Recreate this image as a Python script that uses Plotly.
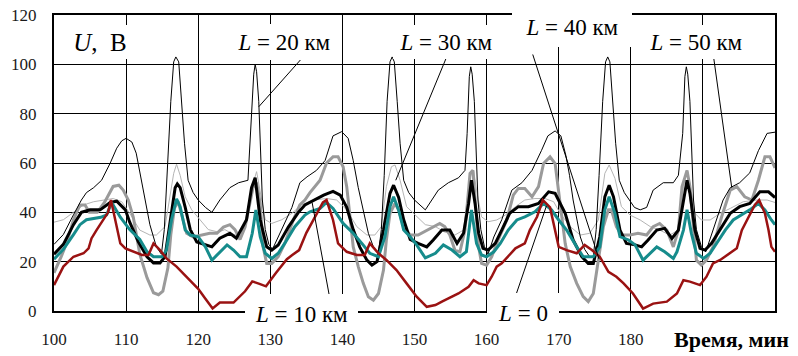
import plotly.graph_objects as go

# ---------------- data (time, min ; voltage, V) ----------------
red_L0 = [(100,10.5),(101.3,18),(102.7,22),(104.1,23.4),(104.8,25.4),(105.2,29.4),(105.9,32.8),(106.8,36.9),(107.5,40),(107.9,45),(108.7,34),(109.2,27.4),(109.9,25.4),(111,24),(112.2,22.7),(113.1,22.7),(113.8,27.4),(114.7,24.7),(115.6,21.3),(117,18),(118,15),(119,12),(120,9),(121,5),(122,1),(123,3.4),(124.9,3.4),(126.5,8),(127.5,12),(128.5,11),(129.4,10),(130.8,15.5),(132.3,21),(133,22.6),(134,24.7),(135,31.7),(136,37),(136.8,41),(137.3,44),(137.8,45),(138.7,36.9),(139.4,27.4),(140.6,24),(142,22.7),(143.1,22.7),(143.8,27.4),(145,23.4),(146.1,20.7),(147.5,16.6),(148.9,11.2),(150.3,5.8),(151.7,1.7),(152.9,2.4),(153.8,3.8),(154.7,5.1),(156.1,7.1),(157.5,9.8),(158.2,12.5),(158.9,11.2),(160,10.5),(160.7,13.9),(161.4,18),(162.1,19.3),(163,22),(164,25.4),(165.3,27.4),(166,32.8),(167,38.2),(167.8,45),(168.8,42),(169.5,32.8),(170,26),(171.1,24.7),(172.5,23.4),(173.6,26.8),(174.6,24.7),(175.7,22),(176.9,15.9),(178,13.9),(179,11.2),(180.3,7.1),(181.7,1),(183.1,3),(185,3.8),(186.4,7.1),(187.3,12.5),(188.2,11.9),(189.6,10.5),(190.5,13.9),(191.4,19.3),(192.4,20.7),(193.8,23.4),(194.7,25.4),(195.4,32.8),(196.3,38.2),(197.2,43),(197.8,45),(198.6,39.6),(199.1,32.8),(199.5,26),(200,24)]

teal_L10 = [(100,21),(101.3,25),(102.7,31),(103.6,35),(104.5,37),(105.5,37.5),(106.5,38),(107.3,39),(108,44),(109.2,38),(110.5,33),(111.9,29),(112.9,24),(113.8,22),(115,22),(115.6,24.7),(116.3,37),(117,45.5),(117.5,42.3),(118.2,32.8),(118.9,30.8),(120,30.1),(121,26),(121.9,20.6),(122.8,23.4),(124,26.8),(124.9,24.7),(125.8,22),(126.7,22),(127.5,31.5),(128,41),(128.6,30.1),(129.3,23.4),(130.2,21.3),(131.1,23.4),(132,27.4),(133.4,34.2),(134.8,38.9),(135.5,40.2),(136.9,41.6),(137.8,44),(138.7,41.6),(140.1,35.5),(141.5,31.5),(142.7,27.4),(143.8,23.4),(145,22),(145.9,30.1),(146.6,42.3),(147.1,46.3),(147.8,40.9),(148.5,32.8),(149.4,30.1),(150.3,26.8),(151.5,21.5),(152.9,23.4),(154,26.8),(155.2,24.7),(156.3,22),(157.2,24),(157.9,41),(158.6,27.4),(159.3,22.7),(160,22),(161,24),(161.9,27.4),(163,32.8),(164.2,36.9),(165.3,38.2),(166.7,40.2),(167.9,43.6),(169,41),(170,36.9),(171.1,32.8),(172.5,26),(173.4,22),(174.8,22),(175.7,26),(176.4,41),(177,46.3),(177.8,39.6),(178.5,30.1),(179.7,28.8),(180.6,26.8),(181.7,20.6),(182.7,23.4),(183.6,26),(184.7,24),(185.9,21.3),(186.4,24),(187.3,32.8),(187.8,41),(188.4,31.5),(189.1,23.4),(190.1,21.3),(191,23.4),(191.9,27.4),(193.1,32.8),(194.2,36.9),(195.4,38.9),(196.5,41),(197.7,43.6),(198.6,41),(199.5,36.9),(200,35)]

black_L30 = [(100,23),(101.3,27),(102.7,35),(103.8,40),(105,41),(106.4,41),(107.8,44),(108.7,44.5),(109.9,41),(110.5,36),(111.7,28),(112.9,22),(113.8,19.5),(114.7,19.5),(115.4,22),(116.1,37),(116.8,50),(117.1,51.5),(117.5,50),(118.2,42),(118.9,33),(119.8,28),(121,27),(121.9,26),(123,29.5),(124.4,31.5),(125.3,29.5),(126.7,37),(127.4,50),(127.9,54),(128.6,37),(129.5,26),(130.2,24.7),(131.1,26.8),(132.5,34),(133.9,40),(134.8,43),(136,45),(137.4,47),(138.7,48.5),(139.7,47),(140.6,42),(141.5,33),(142.4,26),(143.4,20.6),(144.1,18.6),(144.8,20),(145.7,33),(146.6,47.7),(147.1,51),(147.8,46),(148.5,37),(149.4,29),(150.5,27.4),(151.7,26),(152.6,28.8),(153.8,32.8),(154.9,32.8),(155.9,27.4),(156.8,31.5),(157.5,43.6),(157.9,53),(158.4,43.6),(158.9,31.5),(159.5,25.4),(160.2,24.7),(161.2,27.4),(162.1,32.8),(163.2,39.6),(164.4,42.3),(165.8,42.3),(167.2,43.6),(168.6,48.3),(169.5,47.7),(170.9,39.6),(172,28.8),(173.2,22),(174.1,19.3),(174.8,19.3),(175.7,30.1),(176.4,46.3),(177,51),(177.6,46.3),(178.5,32.8),(179.4,27.4),(180.6,26.8),(181.5,26),(182.4,28.8),(183.6,32.8),(184.7,33.5),(185.7,29.4),(186.6,32.8),(187.3,45),(187.8,53),(188.2,47.7),(188.9,32.8),(189.6,25.4),(190.3,24.7),(191.2,27.4),(192.4,32.8),(193.8,39.6),(195.1,42.3),(196.5,43.6),(197.9,48.3),(199.1,48.3),(200,46)]

gray_L40 = [(100,15.5),(101,22),(101.8,28),(102.7,37),(103.6,43),(104.3,43),(104.9,40),(106,40),(107,44),(108.2,50.5),(109,51),(109.6,49),(110.3,45),(111,38),(111.9,23),(112.9,13.5),(113.8,7.4),(114.5,6.6),(115.1,8),(115.8,17.5),(116.2,31),(116.7,41.6),(117.2,44.5),(117.8,38),(118.4,31.5),(119.3,30),(120.5,30.8),(121.6,31.5),(122.6,31.5),(123.5,34),(124.4,35),(125.1,33),(125.8,29),(126.5,34),(127.6,50),(128.1,52),(128.6,43.6),(129,26),(129.5,19.3),(130.2,19.3),(131.1,22),(132,27.4),(133.2,37),(134.1,43),(134.8,45),(135.5,48),(136.9,53),(137.8,60),(138.7,62.5),(139.4,62.5),(140.1,58.5),(140.6,50.4),(141.1,37),(141.5,26),(142.2,18),(142.9,11.2),(143.6,5.8),(144.3,4.4),(145,7.1),(145.7,16.6),(146.1,28.8),(146.6,39.6),(147.3,43.6),(147.8,41),(148.5,34),(149.4,30.8),(150.5,30.8),(151.7,32.8),(152.6,34.2),(153.5,35.5),(154.2,34.2),(154.9,30.8),(155.6,24.7),(156.3,24),(157,32.8),(157.7,55.8),(158.1,57),(158.4,46.3),(158.9,26),(159.3,19.3),(160,18.6),(160.7,22),(161.6,28.8),(162.8,36.9),(163.7,47),(164.4,49.7),(165.3,49.7),(166.3,46.3),(167.2,50.4),(167.9,59.8),(168.8,62.5),(169.5,59.8),(170.2,43.6),(170.9,27.4),(171.6,18),(172.5,11.2),(173.4,5.8),(174.1,3.8),(174.8,7.1),(175.5,20.6),(176.2,34.2),(176.9,41),(177.3,41),(178,34.2),(178.7,30.8),(179.9,30.8),(181,31.5),(182.2,30.8),(183.1,34.2),(184,35.5),(185,32.8),(185.9,26),(186.6,32.8),(187.1,50.4),(187.8,57),(188.2,50.4),(188.7,32.8),(189.1,20.6),(189.8,18.6),(190.5,20.6),(191.4,26),(192.6,38.2),(193.8,49),(194.7,50.4),(195.8,46.3),(196.8,45),(197.7,53),(198.6,62.5),(199.3,62.5),(200,58)]

thin_gray = [(100,36),(101.3,37),(102.7,40),(104.1,43),(105.5,44.3),(106.8,45),(108.2,45.6),(109.4,44.3),(110.5,39.6),(111.9,32.8),(113.3,30.8),(114.2,30.8),(115.4,34.2),(116.6,55.8),(117,59.5),(117.5,55),(118.2,46.3),(119.1,41),(120,38),(121.4,33),(122.8,32),(123.7,33),(124.6,31.5),(125.8,30),(126.7,37),(127.6,51.7),(128.1,56.5),(128.6,47.7),(129.3,37),(130.2,35.5),(131.6,37),(133,39.6),(134.3,43),(136,45),(137.8,45.6),(139.2,45),(140.6,41),(142,34.2),(143.4,30.8),(144.5,30.8),(145.4,34.2),(146.1,50.4),(146.8,58.5),(147.3,59.2),(148,53),(148.9,42.3),(150.1,38.9),(151.5,35),(152.9,34.2),(154.2,32),(155.6,30.8),(156.8,32.8),(157.7,54.4),(158.2,57),(158.6,49),(159.3,38.2),(160.2,36.2),(161.4,36.9),(162.6,38.9),(164,42.3),(165.3,45),(166.7,45.6),(168.1,45.6),(169.3,44.3),(170.2,39.6),(171.6,34.2),(173,30.8),(174.3,31.5),(175.5,36.9),(176.4,55.8),(177,59.2),(177.8,53.8),(178.7,42.3),(179.9,38.9),(181.3,36.9),(182.7,34.2),(184,32.8),(185.4,30.8),(186.6,32.8),(187.3,50.4),(187.8,57),(188.2,51.7),(188.9,39.6),(189.8,36.9),(191,36.9),(192.4,39.6),(193.8,41.6),(195.6,44.3),(197.5,45),(198.9,45),(200,44)]

thin_black = [(100,27),(101.3,31),(102.7,39),(103.8,45),(104.5,48),(105.5,50),(106.6,53),(107.8,60),(108.7,66),(109.4,69),(110,70),(110.8,68.5),(111.4,64),(111.9,56),(112.6,45),(113.3,35),(114.2,26),(114.9,23),(115.3,33),(115.7,55),(116.2,85),(116.6,101),(116.9,103),(117.3,101),(117.7,85),(118.1,68),(118.6,53),(119.3,48),(120,45),(121,42),(121.9,40),(123,45),(124.4,50),(125.6,52),(126.9,53),(127.3,72),(127.7,96),(127.9,100),(128.1,97),(128.4,85),(128.6,65),(128.9,45),(129.3,33),(129.8,27),(130.3,25),(131.6,33),(133,42),(134.1,52),(135.1,54.4),(136.4,57),(137.6,61),(138.7,71),(139.9,72.7),(140.8,70),(141.5,61),(142.2,50),(142.9,40),(143.6,31.5),(144.3,26),(145,23.4),(145.4,33),(145.8,55),(146.2,85),(146.6,101),(146.9,103),(147.2,101),(147.6,85),(148,68),(148.5,53),(149.2,48),(150,45),(150.8,43),(151.5,41),(153.3,49),(154.7,52),(156.1,54),(157,57),(157.3,72),(157.6,95),(157.8,99),(158,96),(158.3,85),(158.5,65),(158.8,45),(159.2,33),(159.7,26),(160.2,23),(161,30),(162.1,37),(163.5,49),(164.9,52),(166.3,57),(167.6,65),(168.5,71),(169.5,73),(170.3,71),(171,63),(171.5,55),(172,45),(172.5,37),(173,30),(173.6,25),(174.3,22),(174.8,22),(175.2,33),(175.6,55),(176.1,85),(176.5,101),(176.8,103),(177.1,101),(177.5,85),(177.9,68),(178.4,53),(179.1,48),(179.8,45),(180.5,42),(181.3,41),(182.2,42),(183.1,49),(184.5,52),(185.9,52),(186.6,55),(187.2,72),(187.5,95),(187.7,99),(187.9,96),(188.2,85),(188.4,65),(188.7,45),(189.1,33),(189.8,26),(190.4,24),(191.4,33),(192.8,45),(193.8,50),(195.1,52),(196.5,56),(197.7,65),(198.9,72),(200,72.5)]

x_tickvals = [100, 110, 120, 130, 140, 150, 160, 170, 180, 190]
x_ticktext = ["100", "110", "120", "130", "140", "150", "160", "170", "180", ""]
y_tickvals = [0, 20, 40, 60, 80, 100, 120]
X_RANGE = [100, 200]
Y_RANGE = [0, 120]

# label text, centre (t, U), box width/height in px, font size
labels = [
    ("<i>U</i>,  В", 106.4, 109.0, 70, 34, 25),
    ("<i>L</i> = 20 км", 131.9, 109.0, 110, 36, 23),
    ("<i>L</i> = 30 км", 154.4, 109.0, 106, 34, 23),
    ("<i>L</i> = 40 км", 171.8, 115.1, 120, 40, 23),
    ("<i>L</i> = 50 км", 189.1, 109.0, 108, 34, 23),
    ("<i>L</i> = 10 км", 134.3, -1.2, 113, 40, 23),
    ("<i>L</i> = 0", 165.0, -0.8, 72, 40, 23),
]
# leader lines: (t0, U0) -> (t1, U1)
pointers = [
    (134.4, 102.5, 128.4, 82.8),
    (154.6, 104.0, 147.4, 53.0),
    (166.4, 104.0, 175.6, 21.0),
    (191.5, 102.6, 194.0, 50.0),
    (164.1, 6.8, 168.3, 42.6),
    (138.2, 6.0, 135.8, 44.0),
]

FONT = "Liberation Serif"

def xy(series):
    return [p[0] for p in series], [p[1] for p in series]

def to_paper(t, u):
    return ((t - X_RANGE[0]) / (X_RANGE[1] - X_RANGE[0]),
            (u - Y_RANGE[0]) / (Y_RANGE[1] - Y_RANGE[0]))

fig = go.Figure()
styles = [
    (thin_gray, "#b4b4b4", 1.0),
    (gray_L40, "#9a9a9a", 3.0),
    (thin_black, "#000000", 1.0),
    (black_L30, "#000000", 3.0),
    (teal_L10, "#168c8c", 3.0),
    (red_L0, "#9a1212", 2.5),
]
for s, c, w in styles:
    x, y = xy(s)
    fig.add_trace(go.Scatter(x=x, y=y, mode="lines", line=dict(color=c, width=w),
                             showlegend=False, hoverinfo="skip"))

shapes = []
for t0, u0, t1, u1 in pointers:
    shapes.append(dict(type="line", xref="x", yref="y", x0=t0, y0=u0, x1=t1, y1=u1,
                       line=dict(color="black", width=1), layer="above"))

annotations = []
for text, t, u, w, h, fs in labels:
    px, py = to_paper(t, u)
    annotations.append(dict(x=px, y=py, xref="paper", yref="paper", text=text, showarrow=False,
                            xanchor="center", yanchor="middle", width=w, height=h,
                            bgcolor="white", borderpad=0, borderwidth=0,
                            font=dict(family=FONT, size=fs, color="black")))
# axis title, placed at pixel centre (731, 339)
annotations.append(dict(x=(731 - 54) / 721, y=(311 - 339) / 296, xref="paper", yref="paper",
                        text="<b>Время, мин</b>", showarrow=False,
                        xanchor="center", yanchor="middle",
                        font=dict(family=FONT, size=22, color="black")))

fig.update_layout(
    width=798, height=356,
    margin=dict(l=54, r=23, t=15, b=45, autoexpand=False),
    paper_bgcolor="white", plot_bgcolor="white",
    shapes=shapes, annotations=annotations,
    font=dict(family=FONT, size=17, color="#1a1a1a"),
)
fig.update_xaxes(range=X_RANGE, tickmode="array", tickvals=x_tickvals, ticktext=x_ticktext,
                 showgrid=True, gridcolor="black", gridwidth=1, zeroline=False,
                 showline=True, linecolor="black", linewidth=2, mirror=True,
                 ticks="", ticklabelstandoff=12, automargin=False,
                 tickfont=dict(family=FONT, size=17, color="#1a1a1a"))
fig.update_yaxes(range=Y_RANGE, tickmode="array", tickvals=y_tickvals,
                 showgrid=True, gridcolor="black", gridwidth=1, zeroline=False,
                 showline=True, linecolor="black", linewidth=2, mirror=True,
                 ticks="", ticklabelstandoff=12, automargin=False,
                 tickfont=dict(family=FONT, size=17, color="#1a1a1a"))

fig.write_html("out.html")
